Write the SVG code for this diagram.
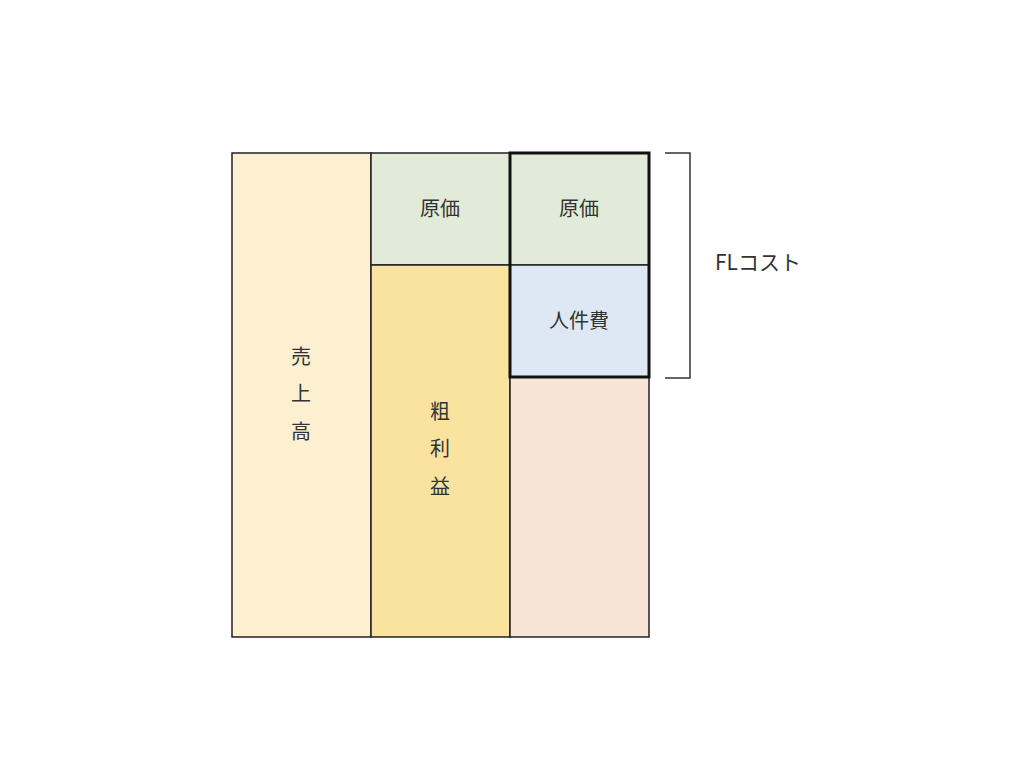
<svg xmlns="http://www.w3.org/2000/svg" width="1027" height="770" viewBox="0 0 1027 770">
<style>
.b{stroke:#222;stroke-width:1.5}
.t{font-family:"Noto Sans CJK JP","Noto Sans",sans-serif;font-size:20px;fill:#333;text-anchor:middle;dominant-baseline:central}
</style>
<rect width="1027" height="770" fill="#fff"/>
<g id="uriage"><rect class="b" x="232" y="153" width="139" height="484" fill="#fcf0d0"/>
<text class="t" x="301" y="355">売</text><text class="t" x="301" y="392">上</text><text class="t" x="301" y="430">高</text></g>
<g id="genka1"><rect class="b" x="371" y="153" width="139" height="112" fill="#e2ebd9"/><text class="t" x="440" y="207">原価</text></g>
<g id="arari"><rect class="b" x="371" y="265" width="139" height="372" fill="#fae39f"/>
<text class="t" x="440" y="410">粗</text><text class="t" x="440" y="447">利</text><text class="t" x="440" y="485">益</text></g>
<g id="genka2"><rect class="b" x="510" y="153" width="139" height="112" fill="#e2ebd9"/><text class="t" x="579" y="207">原価</text></g>
<g id="jinken"><rect class="b" x="510" y="265" width="139" height="112" fill="#dde8f4"/><text class="t" x="579" y="319">人件費</text></g>
<g id="other"><rect class="b" x="510" y="377" width="139" height="260" fill="#f8e3d7"/></g>
<g id="flbox"><rect x="510" y="153" width="139" height="224" fill="none" stroke="#111" stroke-width="3"/></g>
<g id="connectors"><path d="M665 153H690V378H665" fill="none" stroke="#333" stroke-width="1.5"/></g>
<g id="fl"><text class="t" x="758" y="261" style="font-size:21px">FLコスト</text></g>
</svg>
